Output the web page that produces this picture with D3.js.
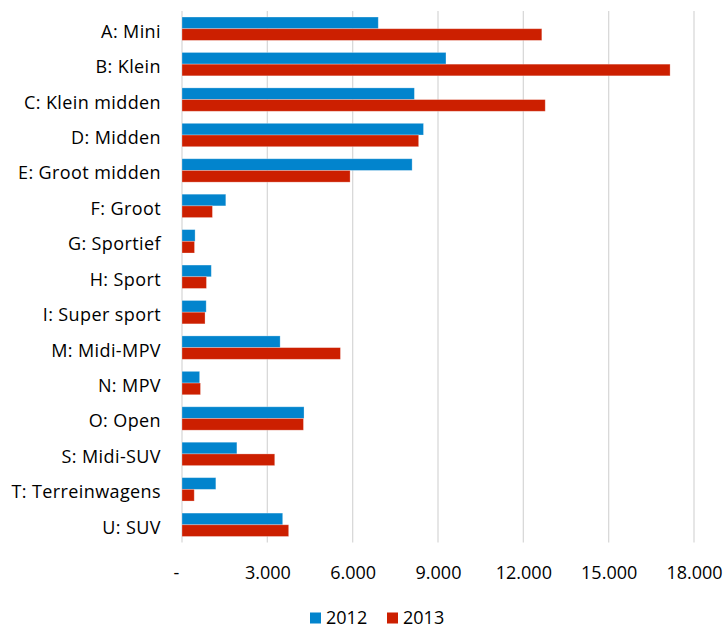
<!DOCTYPE html>
<html>
<head>
<meta charset="utf-8">
<script src="https://cdn.jsdelivr.net/npm/d3@7"></script>
<style>
  html, body { margin: 0; padding: 0; background: #fff; }
  svg { display: block; font-family: "Open Sans", sans-serif; }
</style>
</head>
<body>
<svg id="chart" width="727" height="630"></svg>
<script>
const categories = [
  'A: Mini', 'B: Klein', 'C: Klein midden', 'D: Midden', 'E: Groot midden',
  'F: Groot', 'G: Sportief', 'H: Sport', 'I: Super sport', 'M: Midi-MPV',
  'N: MPV', 'O: Open', 'S: Midi-SUV', 'T: Terreinwagens', 'U: SUV',
]
const seriesNames = ['2012', '2013']
const values2012 = [6900, 9280, 8170, 8490, 8090, 1540, 460, 1030, 850, 3450, 620, 4290, 1930, 1190, 3540]
const values2013 = [12650, 17160, 12770, 8320, 5910, 1070, 440, 860, 810, 5570, 650, 4270, 3260, 430, 3750]
const xTicks = [0, 3000, 6000, 9000, 12000, 15000, 18000]
const colors = ['#0284cd', '#cc1f00']

const svg = d3.select('#chart')

// NOTE: plot area
const plotLeft = 182
const plotRight = 694
const plotTop = 11
const plotBottom = 542.5

const x = d3.scaleLinear().domain([0, 18000]).range([plotLeft, plotRight])
const y = d3.scaleBand().domain(categories).range([plotTop, plotBottom])
  .paddingInner(0.34).paddingOuter(0.17)
const ySub = d3.scaleBand().domain(seriesNames).range([0, y.bandwidth()])

const fmt = v => (v === 0 ? '-' : d3.format(',')(v).replace(/,/g, '.'))

// NOTE: vertical gridlines
svg.append('g')
  .selectAll('line')
  .data(xTicks)
  .join('line')
  .attr('x1', d => x(d))
  .attr('x2', d => x(d))
  .attr('y1', plotTop)
  .attr('y2', plotBottom)
  .attr('stroke', '#d9d9d9')
  .attr('stroke-width', 1.3)

// NOTE: x tick labels, no axis line
const xAxis = svg.append('g')
  .attr('transform', `translate(0,${plotBottom})`)
  .call(d3.axisBottom(x).tickValues(xTicks).tickFormat(fmt).tickSize(0).tickPadding(0))
xAxis.select('.domain').remove()
xAxis.selectAll('text')
  .attr('y', 36)
  .attr('dy', 0)
  .attr('dx', d => (d === 0 ? -6 : 0))
  .attr('fill', '#000')
  .style('font-size', '18px')
  .style('font-family', '"Open Sans", sans-serif')

// NOTE: category labels
const yAxis = svg.append('g')
  .attr('transform', `translate(${plotLeft},0)`)
  .call(d3.axisLeft(y).tickSize(0).tickPadding(21))
yAxis.select('.domain').remove()
yAxis.selectAll('text')
  .attr('dy', '0.5em')
  .attr('fill', '#000')
  .style('font-size', '18px')
  .style('letter-spacing', '0.4px')
  .style('font-family', '"Open Sans", sans-serif')

// NOTE: build rows from the arrays
const rows = categories.map((c, i) => ({
  category: c,
  values: [values2012[i], values2013[i]],
}))

const groups = svg.append('g')
  .selectAll('g')
  .data(rows)
  .join('g')
  .attr('transform', d => `translate(0,${y(d.category)})`)

groups.selectAll('rect')
  .data(d => d.values.map((v, j) => ({ key: seriesNames[j], value: v, color: colors[j] })))
  .join('rect')
  .attr('x', x(0))
  .attr('y', d => ySub(d.key))
  .attr('width', d => x(d.value) - x(0))
  .attr('height', ySub.bandwidth())
  .attr('fill', d => d.color)
  .attr('stroke', '#fff')
  .attr('stroke-opacity', 0.35)
  .attr('stroke-width', 0.8)

// NOTE: legend at the bottom, kept inside the frame
const legend = svg.append('g').attr('transform', 'translate(0,618)')
const legendX = [310, 387]
const items = legend.selectAll('g')
  .data(seriesNames)
  .join('g')
  .attr('transform', (d, i) => `translate(${legendX[i]},0)`)
items.append('rect')
  .attr('x', 0)
  .attr('y', -5.5)
  .attr('width', 11)
  .attr('height', 11)
  .attr('fill', (d, i) => colors[i])
items.append('text')
  .attr('x', 16)
  .attr('y', 0)
  .attr('dy', '0.36em')
  .style('font-size', '18px')
  .text(d => d)
</script>
</body>
</html>
